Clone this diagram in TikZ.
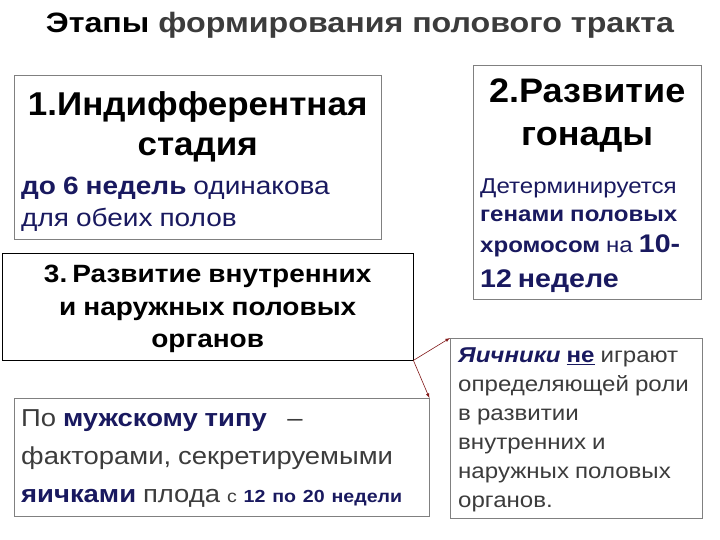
\documentclass[tikz,border=0pt]{standalone}
\usepackage{fontspec}
\setmainfont{Liberation Sans}
\newfontfamily\titlesans[FakeStretch=1.15]{Liberation Sans}
\newfontfamily\headsans[FakeStretch=1.06]{Liberation Sans}
\newfontfamily\widesans[FakeStretch=1.12]{Liberation Sans}
\usepackage{xcolor}
\usetikzlibrary{arrows,positioning}
\definecolor{navy}{RGB}{25,25,95}
\definecolor{textgray}{RGB}{60,60,60}
\definecolor{boxgray}{RGB}{128,128,128}
\definecolor{arrowred}{RGB}{130,25,25}
\newcommand\wordgaps{\spaceskip=.28em plus .1em minus .05em\relax}
\tikzset{
	box/.style={draw=boxgray, fill=white, anchor=north west, inner sep=0pt},
	txt/.style={anchor=north west, inner sep=0pt},
	link/.style={draw=arrowred, semithick, -latex}
}
\begin{document}
\begin{tikzpicture}[x=1pt,y=-1pt]
		\useasboundingbox[fill=white] (0,0) rectangle (720,540);
		\node[anchor=base] (title) at (360,33) {\titlesans\fontsize{28}{32}\selectfont\bfseries Этапы \textcolor{textgray}{формирования полового тракта}};
		\node[box, minimum width=367pt, minimum height=164pt] (stage1) at (14,75) {};
		\node[box, minimum width=228pt, minimum height=234pt] (stage2) at (473,65) {};
		\node[box, draw=black, minimum width=411pt, minimum height=107pt] (stage3) at (2,253) {};
		\node[box, minimum width=415pt, minimum height=118pt] (male) at (14,398) {};
		\node[box, minimum width=252pt, minimum height=180pt] (female) at (450,338) {};
		\node[txt, text width=353pt] (stage1text) at ([shift={(7,16)}]stage1.north west) {%
			{\centering\headsans\fontsize{33}{40}\selectfont\wordgaps\bfseries 1.Индифферентная\\ стадия\par}
			\vspace{7pt}
			{\widesans\color{navy}\fontsize{25}{32}\selectfont\wordgaps\textbf{до 6 недель} одинакова\\ для обеих полов\par}};
		\node[txt, text width=214pt] (stage2text) at ([shift={(7,14)}]stage2.north west) {%
			{\centering\headsans\fontsize{34}{43}\selectfont\wordgaps\bfseries 2.Развитие\\ гонады\par}
			\vspace{20pt}
			{\widesans\color{navy}\fontsize{21.5}{28}\selectfont\wordgaps Детерминируется\\ \textbf{генами половых}\\[3pt] \textbf{хромосом} на {\fontsize{25.5}{28}\selectfont\textbf{10-}}\\[7pt] {\fontsize{25.5}{28}\selectfont\textbf{12 неделе}}\par}};
		\node[txt, text width=397pt] (stage3text) at ([shift={(7,12)}]stage3.north west) {%
			{\centering\widesans\fontsize{25}{32.5}\selectfont\wordgaps\bfseries 3. Развитие внутренних\\ и наружных половых\\ органов\par}};
		\node[txt, text width=401pt] (maletext) at ([shift={(7,11.5)}]male.north west) {%
			{\widesans\color{textgray}\fontsize{24.5}{38}\selectfont\wordgaps По \textcolor{navy}{\textbf{мужскому типу}} \ \ –\\ факторами, секретируемыми\\ \textcolor{navy}{\textbf{яичками}} плода {\fontsize{17.5}{38}\selectfont с \textcolor{navy}{\textbf{12 по 20 недели}}}\par}};
		\node[txt, text width=236pt] (femaletext) at ([shift={(8,10)}]female.north west) {%
			{\widesans\color{textgray}\fontsize{21.5}{29}\selectfont\wordgaps\textcolor{navy}{\textbf{\textit{Яичники}} \textbf{\underline{не}}} играют\\ определяющей роли\\ в развитии\\ внутренних и\\ наружных половых\\ органов.\par}};
		\coordinate (fork) at (stage3.south east);
		\draw[link] (fork) -- (female.north west);
		\draw[link] (fork) -- (male.north east);
\end{tikzpicture}
\end{document}
